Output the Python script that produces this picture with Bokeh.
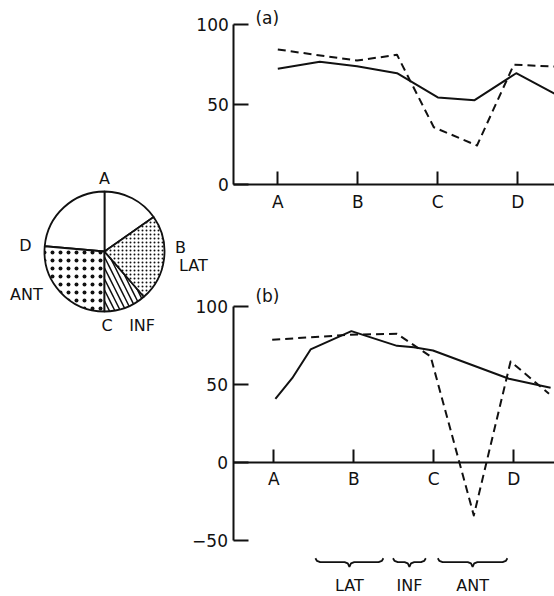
import numpy as np
from bokeh.plotting import figure
from bokeh.models import Range1d, LinearAxis, FixedTicker
from bokeh.core.properties import value
from bokeh.embed import file_html
from bokeh.resources import INLINE

# ---------------- data ----------------
# pie: regions of the ventricle cross-section (degrees, anticlockwise from east)
pie_regions = ["AB", "DA", "ANT", "INF", "LAT"]
pie_start_deg = [35, 90, 175, 270, 311]
pie_end_deg = [90, 175, 270, 311, 395]

pie_labels = ["A", "B", "LAT", "C", "INF", "D", "ANT"]
pie_label_angle = [90, 3, -9, 272, 297, 176, 209]
pie_label_radius = [1.21, 1.27, 1.5, 1.23, 1.38, 1.32, 1.49]

# positions around the circumference
pos_names = ["A", "B", "C", "D"]
pos_x = [0, 1, 2, 3]

# panel (a)
a_solid_x = [0, 0.525, 0.99, 1.49, 2.0, 2.46, 2.98, 3.46]
a_solid_y = [72.4, 76.7, 74.0, 69.6, 54.5, 52.8, 69.6, 56.8]
a_dash_x = [0, 0.99, 1.49, 1.95, 2.49, 2.95, 3.46]
a_dash_y = [84.4, 77.5, 81.1, 35.9, 24.5, 74.9, 73.8]

# panel (b)
b_solid_x = [0.02, 0.23, 0.46, 0.97, 1.54, 1.75, 1.99, 2.94, 3.46]
b_solid_y = [40.6, 53.8, 72.2, 83.9, 74.5, 73.6, 71.5, 53.4, 47.6]
b_dash_x = [-0.02, 0.96, 1.54, 1.96, 2.5, 2.96, 3.44]
b_dash_y = [78.4, 81.6, 82.2, 67.7, -34.1, 64.5, 43.8]

a_yticks = [0, 50, 100]
b_yticks = [-50, 0, 50, 100]

# regions marked under panel (b)
region_labels = ["LAT", "INF", "ANT"]
region_start = [0.52, 1.49, 2.05]
region_end = [1.37, 1.90, 2.92]

# ---------------- layout / style ----------------
W, H = 554, 596
INK = "#111111"
FONT = "DejaVu Sans"


def xr(origin_px, px_per_unit):
    return Range1d((0 - origin_px) / px_per_unit, (W - origin_px) / px_per_unit)


def yr(origin_px, px_per_unit):
    return Range1d((origin_px - H) / px_per_unit, origin_px / px_per_unit)


p = figure(width=W, height=H, x_range=xr(104, 60), y_range=yr(251, 60),
           x_axis_type=None, y_axis_type=None, toolbar_location=None,
           output_backend="svg", min_border=0)
p.outline_line_color = None
p.background_fill_color = "white"
p.border_fill_color = "white"
p.extra_x_ranges = {"xa": xr(277.3, 80), "xb": xr(273.3, 80)}
p.extra_y_ranges = {"ya": yr(184.3, 1.603), "yb": yr(461.7, 1.562)}

# ---- pie ----
hatch_style = {
    "AB": dict(hatch_pattern="blank", hatch_scale=6, hatch_weight=1),
    "DA": dict(hatch_pattern="blank", hatch_scale=6, hatch_weight=1),
    "ANT": dict(hatch_pattern="dot", hatch_scale=8, hatch_weight=1.2),
    "INF": dict(hatch_pattern="left_diagonal_line", hatch_scale=11, hatch_weight=1.5),
    "LAT": dict(hatch_pattern="dot", hatch_scale=4, hatch_weight=1),
}
for name, s, e in zip(pie_regions, pie_start_deg, pie_end_deg):
    p.wedge(x=0, y=0, radius=1, start_angle=np.radians(s), end_angle=np.radians(e),
            fill_color="white", line_color=INK, line_width=1.8,
            hatch_color=INK, **hatch_style[name])

lab_x = [r * np.cos(np.radians(a)) for a, r in zip(pie_label_angle, pie_label_radius)]
lab_y = [r * np.sin(np.radians(a)) for a, r in zip(pie_label_angle, pie_label_radius)]
p.text(x=lab_x, y=lab_y, text=pie_labels, text_font=value(FONT), text_font_size="16px",
       text_align="center", text_baseline="middle", text_color=INK)


# ---- line panels ----
def style_axis(ax, tick_in, standoff):
    ax.axis_line_width = 2
    ax.axis_line_color = INK
    ax.major_tick_line_width = 2
    ax.major_tick_line_color = INK
    ax.major_tick_in = tick_in
    ax.major_tick_out = 0
    ax.minor_tick_line_color = None
    ax.major_label_standoff = standoff
    ax.major_label_text_font = FONT
    ax.major_label_text_font_size = "17px"
    ax.major_label_text_color = INK


def panel(xn, yn, yticks, yaxis_x, tag, tag_x, tag_y, series):
    yax = LinearAxis(x_range_name=xn, y_range_name=yn, fixed_location=yaxis_x,
                     bounds=(min(yticks), max(yticks)), ticker=FixedTicker(ticks=yticks))
    style_axis(yax, 15, 5)
    p.add_layout(yax, "left")
    xax = LinearAxis(x_range_name=xn, y_range_name=yn, fixed_location=0,
                     bounds=(yaxis_x, 10), ticker=FixedTicker(ticks=pos_x),
                     major_label_overrides={k: v for k, v in zip(pos_x, pos_names)})
    style_axis(xax, 13, 7)
    p.add_layout(xax, "below")
    for xs, ys, dash in series:
        p.line(xs, ys, x_range_name=xn, y_range_name=yn, line_color=INK, line_width=2,
               line_dash=dash, line_join="round")
    p.text(x=[tag_x], y=[tag_y], text=[tag], x_range_name=xn, y_range_name=yn,
           text_font=value(FONT), text_font_size="17px", text_align="left",
           text_baseline="middle", text_color=INK)


panel("xa", "ya", a_yticks, -0.55, "(a)", -0.28, 104,
      [(a_solid_x, a_solid_y, "solid"), (a_dash_x, a_dash_y, "8 5")])
panel("xb", "yb", b_yticks, -0.51, "(b)", -0.23, 106.5,
      [(b_solid_x, b_solid_y, "solid"), (b_dash_x, b_dash_y, "8 5")])

# ---- braces under panel (b) ----
top, mid, bot = -61.5, -64.0, -67.0
bx, by = [], []
for s, e in zip(region_start, region_end):
    m = (s + e) / 2
    bx.append([s, s + 0.02, s + 0.06, m - 0.06, m - 0.02, m, m + 0.02, m + 0.06,
               e - 0.06, e - 0.02, e])
    by.append([top, mid + 0.8, mid, mid, mid - 0.8, bot, mid - 0.8, mid, mid, mid + 0.8, top])
p.multi_line(bx, by, x_range_name="xb", y_range_name="yb", line_color=INK, line_width=1.8)
p.text(x=[(s + e) / 2 for s, e in zip(region_start, region_end)], y=[-79] * 3,
       text=region_labels, x_range_name="xb", y_range_name="yb",
       text_font=value(FONT), text_font_size="16px", text_align="center",
       text_baseline="middle", text_color=INK)

open("out.html", "w").write(file_html(p, INLINE))
